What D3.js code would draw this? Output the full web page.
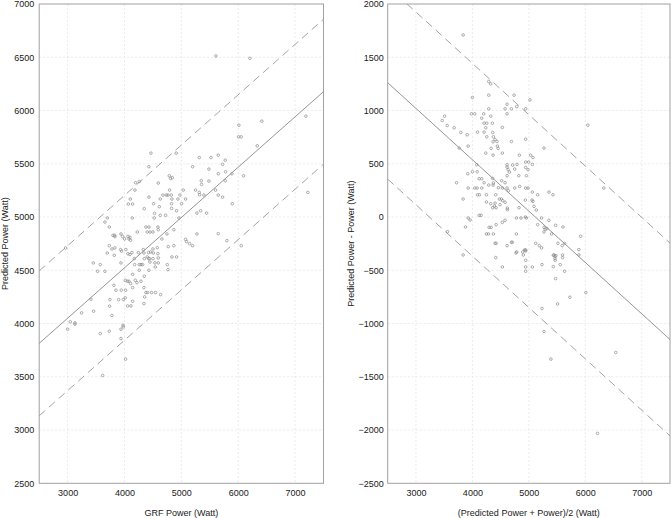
<!DOCTYPE html>
<html><head><meta charset="utf-8">
<script src="https://cdn.jsdelivr.net/npm/d3@7"></script>
<style>
body{margin:0;background:#fff}
svg{display:block}
text{font-family:"Liberation Sans",Arial,sans-serif;font-size:9px;fill:#1a1a1a}
</style>
</head><body>
<svg id="chart" width="671" height="518"></svg>
<script>
// ---- data ----
const xTicks = [3000, 4000, 5000, 6000, 7000];
const leftYTicks = [2500, 3000, 3500, 4000, 4500, 5000, 5500, 6000, 6500, 7000];
const rightYTicks = [-2500, -2000, -1500, -1000, -500, 0, 500, 1000, 1500, 2000];

const leftX = [5608,6205,7190,6416,6012,6006,6053,6334,4465,4910,4430,5198,5315,5520,5649,5772,5725,5485,5649,5778,5889,6094,4787,4811,4840,4594,4195,4260,5350,5356,5772,5485,4184,4793,5033,5250,5315,5602,5320,4676,4735,4764,4823,4975,4102,4430,4629,4834,4940,5074,5397,5649,5725,4067,4143,4512,4828,5004,5895,4612,4828,4348,4916,4529,4629,4723,5274,5338,5444,4137,4523,4957,3656,3697,3733,4377,4430,4588,4594,4400,4450,4500,4225,4869,3797,3827,3938,3967,4061,4096,4002,4080,4108,3832,4746,4658,5074,5092,5145,5198,5274,5649,5801,6053,3733,3830,3780,3932,4025,3950,4131,4243,4330,4424,4460,4500,4576,4770,4869,4834,4916,4400,4425,2965,3697,3451,3574,3527,3656,3820,3938,4060,4096,4342,4506,4588,4172,4260,4290,4319,4178,4348,4441,4500,4447,4535,4594,4594,4752,4541,4260,4430,4764,4143,4348,3814,3850,3897,3943,3979,4020,4014,4014,4049,4078,4108,4190,4219,4290,4143,4342,4377,4406,4477,4547,4635,4354,4342,4143,4055,4114,3744,3410,3246,3457,3738,3779,3047,3129,3129,3000,3574,3733,3973,3979,3938,3938,4020,3615,7225];
const leftY = [6512,6490,5947,5900,5862,5753,5753,5669,5600,5600,5472,5472,5559,5559,5581,5534,5494,5450,5406,5425,5406,5387,5387,5362,5370,5319,5322,5334,5341,5306,5341,5337,5253,5253,5253,5253,5231,5253,5209,5206,5206,5206,5206,5206,5169,5187,5169,5169,5169,5169,5206,5206,5187,5122,5122,5125,5125,5125,5125,5097,5081,5078,5059,5034,5016,5016,5037,5059,5037,4991,4991,4991,4953,4991,4906,4906,4906,4906,4881,4859,4859,4859,4859,4881,4828,4828,4841,4818,4818,4810,4794,4794,4782,4816,4841,4794,4790,4769,4750,4731,4841,4844,4778,4731,4731,4710,4700,4694,4694,4680,4666,4666,4694,4666,4672,4700,4712,4722,4731,4625,4625,4625,4610,4709,4662,4569,4553,4491,4491,4641,4569,4655,4648,4662,4662,4656,4609,4553,4553,4553,4553,4609,4609,4609,4578,4569,4569,4616,4553,4531,4500,4500,4506,4462,4444,4359,4313,4225,4313,4225,4313,4241,4406,4397,4397,4375,4406,4384,4397,4337,4337,4291,4291,4291,4291,4272,4250,4187,4209,4166,4166,4225,4228,4100,4116,4163,4075,4016,4006,3994,3947,3906,3928,3984,3969,3947,3859,3666,3512,5231];

const rightX = [3836,4001,4290,4325,4290,4738,5020,4785,4614,4614,4579,4691,4944,4290,3983,4042,4201,4166,4325,3507,3465,3554,3677,3795,3907,4090,4207,4255,4237,4355,4531,6045,4360,4372,4402,4437,4366,4207,4255,4691,4944,4443,4455,4331,5268,3925,3766,4237,4366,4531,4832,5032,5073,4078,4614,4614,4714,4791,4944,4997,5062,4944,4985,4632,4656,4750,4821,4614,4956,3919,4001,4084,4119,4166,4207,4360,4372,4519,4579,3719,3925,4042,4084,4166,4290,4366,4461,4531,4614,4637,4750,4838,4944,4985,5062,5156,5356,5427,6328,5056,4938,4090,4125,4249,4414,3836,4249,4325,4402,4478,4513,4537,4390,4360,4490,4579,4620,4620,4826,5073,5091,5132,4420,4119,4154,4779,4861,4938,4956,4579,4531,5226,5356,3925,3960,3878,4296,4331,4420,5156,5268,5290,5268,5320,5474,5603,3560,4249,4284,4372,4779,5403,5916,4691,4708,4402,4420,4614,5120,5185,5226,5515,5633,5590,4785,4944,4926,4903,5445,5462,5480,5597,5886,5886,3836,4414,4773,4891,4944,4944,4531,4944,5062,4944,5232,5433,5462,5468,5597,5433,5556,5633,5474,6010,5727,5509,5232,5268,5391,6540,6216];
const rightY = [1709,1122,1272,1250,1144,1144,1100,1037,1059,969,1016,1016,1016,1016,969,969,969,928,947,947,906,859,838,794,772,797,881,881,838,881,841,862,794,753,728,709,706,797,753,709,731,666,644,644,647,666,647,600,581,600,581,581,559,491,491,469,488,494,516,516,494,466,444,444,422,450,388,388,388,406,425,425,359,359,322,363,319,341,322,322,272,272,272,272,300,300,275,272,272,247,272,287,272,272,234,209,234,209,272,159,159,209,209,209,209,169,141,125,131,169,169,153,103,87,116,138,84,69,87,147,100,66,87,16,16,-9,-9,0,-9,-31,-50,-9,-31,-9,-28,-94,-97,-97,-72,-72,-97,-115,-140,-110,-78,-94,-137,-159,-159,-159,-159,-159,-181,-237,-237,-247,-247,-269,-247,-269,-290,-247,-247,-269,-328,-309,-309,-356,-356,-370,-363,-356,-356,-306,-356,-381,-337,-328,-319,-406,-469,-469,-469,-509,-447,-359,-390,-406,-381,-466,-447,-509,-578,-709,-753,-816,-859,-1075,-1334,-1272,-2031];

// fitted lines (end points at x = 2500 and 7500) and band half-widths
const leftFitX = [2500, 7500];
const leftFitY = [3814, 6177];
const leftBand = [680];
const rightFitX = [2500, 7500];
const rightFitY = [1261, -1150];
const rightBand = [905];

const svg = d3.select("#chart");
const plotTop = 4, plotBottom = 483.3;

function panel(id, x0, x1, yDomain, yTicks, xs, ys, fitX, fitY, band, xLabel, yLabel, yLabelX, tickGap) {
  const x = d3.scaleLinear().domain([2500, 7500]).range([x0, x1]);
  const y = d3.scaleLinear().domain(yDomain).range([plotBottom, plotTop]);
  const g = svg.append("g");
  g.append("clipPath").attr("id", id).append("rect")
    .attr("x", x0).attr("y", plotTop).attr("width", x1 - x0).attr("height", plotBottom - plotTop);

  // grid
  g.append("g").selectAll("line").data(xTicks).join("line")
    .attr("x1", d => x(d)).attr("x2", d => x(d)).attr("y1", plotTop).attr("y2", plotBottom)
    .attr("stroke", "#e2e2e2").attr("stroke-width", 0.7).attr("stroke-dasharray", "2,2");
  g.append("g").selectAll("line").data(yTicks.slice(1, -1)).join("line")
    .attr("x1", x0).attr("x2", x1).attr("y1", d => y(d)).attr("y2", d => y(d))
    .attr("stroke", "#e2e2e2").attr("stroke-width", 0.7).attr("stroke-dasharray", "2,2");

  // frame
  g.append("rect").attr("x", x0).attr("y", plotTop).attr("width", x1 - x0).attr("height", plotBottom - plotTop)
    .attr("fill", "none").attr("stroke", "#a0a0a0").attr("stroke-width", 1);

  // axes via d3
  const xa = g.append("g").attr("transform", `translate(0,${plotBottom})`)
    .call(d3.axisBottom(x).tickValues(xTicks).tickSize(0).tickPadding(6).tickFormat(d3.format("d")));
  xa.select(".domain").remove();
  xa.selectAll("text").style("font-size", "9px").attr("fill", "#1a1a1a").style("font-family", '"Liberation Sans",Arial,sans-serif');
  const ya = g.append("g").attr("transform", `translate(${x0},0)`)
    .call(d3.axisLeft(y).tickValues(yTicks).tickSize(0).tickPadding(tickGap).tickFormat(d3.format("d")));
  ya.select(".domain").remove();
  ya.selectAll("text").style("font-size", "9px").attr("fill", "#1a1a1a").style("font-family", '"Liberation Sans",Arial,sans-serif');

  const cg = g.append("g").attr("clip-path", `url(#${id})`);
  const line = d3.line().x(d => x(d[0])).y(d => y(d[1]));
  const fit = fitX.map((v, i) => [v, fitY[i]]);
  [band[0], -band[0]].forEach(off => {
    cg.append("path").datum(fit.map(p => [p[0], p[1] + off])).attr("d", line)
      .attr("fill", "none").attr("stroke", "#8c8c8c").attr("stroke-width", 0.8).attr("stroke-dasharray", "8,5");
  });
  cg.append("path").datum(fit).attr("d", line)
    .attr("fill", "none").attr("stroke", "#7a7a7a").attr("stroke-width", 0.8);

  cg.append("g").selectAll("circle").data(xs.map((v, i) => [v, ys[i]])).join("circle")
    .attr("cx", d => x(d[0])).attr("cy", d => y(d[1])).attr("r", 1.3)
    .attr("fill", "none").attr("stroke", "#8a8a8a").attr("stroke-width", 0.7);

  g.append("text").attr("x", (x0 + x1) / 2).attr("y", 516).attr("text-anchor", "middle").text(xLabel);
  g.append("text").attr("transform", `translate(${yLabelX},${(plotTop + plotBottom) / 2}) rotate(-90)`)
    .attr("text-anchor", "middle").text(yLabel);
}

panel("clipL", 39.2, 323.5, [2500, 7000], leftYTicks, leftX, leftY, leftFitX, leftFitY, leftBand,
  "GRF Power (Watt)", "Predicted Power (Watt)", 8, 5);
panel("clipR", 387.7, 670, [-2500, 2000], rightYTicks, rightX, rightY, rightFitX, rightFitY, rightBand,
  "(Predicted Power + Power)/2 (Watt)", "Predicted Power - Power (Watt)", 354, 4);
</script>
</body></html>
